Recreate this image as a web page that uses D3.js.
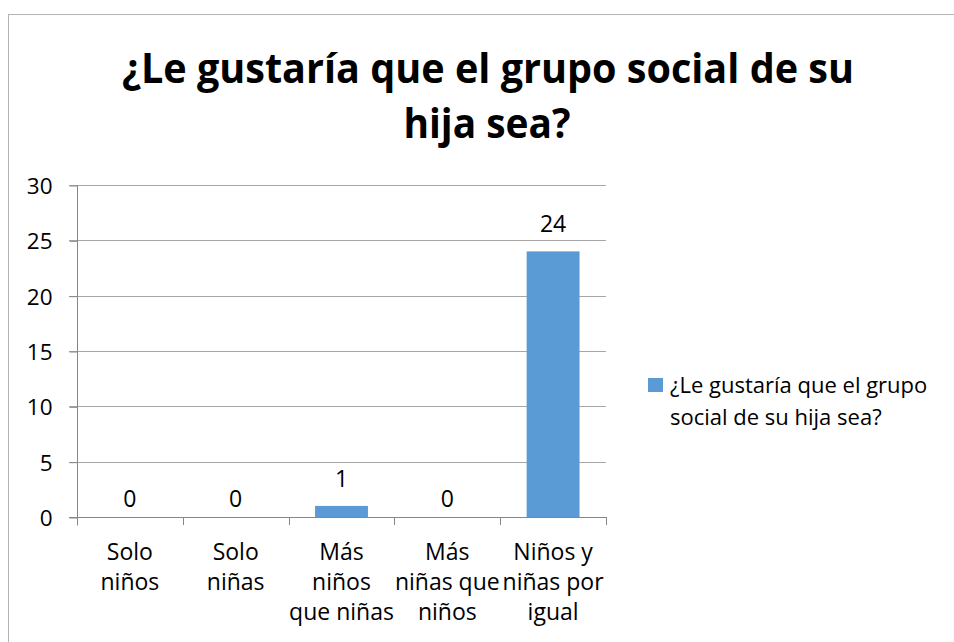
<!DOCTYPE html>
<html>
<head>
<meta charset="utf-8">
<script src="https://cdn.jsdelivr.net/npm/d3@7"></script>
<style>
  html, body { margin: 0; padding: 0; background: #fff; }
  svg { display: block; }
  text { font-family: "Open Sans", "Noto Sans", sans-serif; fill: #000; }
</style>
</head>
<body>
<svg id="chart" width="954" height="642"></svg>
<script>
const titleLines = ["¿Le gustaría que el grupo social de su", "hija sea?"];
const categories = [
  ["Solo", "niños"],
  ["Solo", "niñas"],
  ["Más", "niños", "que niñas"],
  ["Más", "niñas que", "niños"],
  ["Niños y", "niñas por", "igual"]
];
const values = [0, 0, 1, 0, 24];
const yTicks = [0, 5, 10, 15, 20, 25, 30];
const legendLines = ["¿Le gustaría que el grupo", "social de su hija sea?"];

const svg = d3.select("#chart");
const W = 954, H = 642;
const barColor = "#5b9bd5";
const gridColor = "#a6a6a6";
const axisColor = "#868686";

// outer border
svg.append("rect").attr("x", 8.5).attr("y", 14.5).attr("width", W + 10).attr("height", H + 10)
  .attr("fill", "#fff").attr("stroke", "#b4b4b4").attr("stroke-width", 1);

// title
const title = svg.append("g");
title.append("text").attr("x", 488).attr("y", 83).attr("text-anchor", "middle")
  .attr("font-size", 42).attr("font-weight", "bold")
  .attr("textLength", 732).attr("lengthAdjust", "spacingAndGlyphs")
  .text(titleLines[0]);
title.append("text").attr("x", 487).attr("y", 138).attr("text-anchor", "middle")
  .attr("font-size", 42).attr("font-weight", "bold")
  .attr("textLength", 167).attr("lengthAdjust", "spacingAndGlyphs")
  .text(titleLines[1]);

// scales
const x = d3.scaleBand().domain(d3.range(categories.length)).range([77, 606]).paddingInner(0.5).paddingOuter(0.25);
const xOuter = d3.scaleBand().domain(d3.range(categories.length)).range([77, 606]);
const y = d3.scaleLinear().domain([0, 30]).range([517, 185]);

// gridlines
svg.append("g").selectAll("line").data(yTicks.filter(t => t !== 0)).join("line")
  .attr("x1", 69).attr("x2", 606)
  .attr("y1", d => Math.round(y(d)) + 0.5).attr("y2", d => Math.round(y(d)) + 0.5)
  .attr("stroke", gridColor).attr("stroke-width", 1);

// y axis
const yAxis = d3.axisLeft(y).tickValues(yTicks).tickSize(8).tickPadding(17);
const yg = svg.append("g").attr("transform", "translate(77.5,0.5)").call(yAxis);
yg.select(".domain").attr("stroke", axisColor).attr("d", "M0," + (y(30)) + "V" + (y(0) + 8));
yg.selectAll(".tick line").attr("stroke", axisColor);
yg.selectAll(".tick text").attr("font-size", 22.5).attr("font-family", "Open Sans").attr("fill", "#000").attr("dy", "0.36em");

// bars
svg.append("g").selectAll("rect").data(values).join("rect")
  .attr("x", (d, i) => x(i)).attr("width", x.bandwidth())
  .attr("y", d => y(d)).attr("height", d => y(0) - y(d))
  .attr("fill", barColor);

// x axis
const xg = svg.append("g");
xg.append("line").attr("x1", 69).attr("x2", 606).attr("y1", 517.5).attr("y2", 517.5).attr("stroke", axisColor);
xg.selectAll("line.tk").data(d3.range(categories.length + 1)).join("line").attr("class", "tk")
  .attr("x1", i => Math.round(77 + i * xOuter.step()) + 0.5).attr("x2", i => Math.round(77 + i * xOuter.step()) + 0.5)
  .attr("y1", 517).attr("y2", 525).attr("stroke", axisColor);

// category labels
const cats = svg.append("g").selectAll("text").data(categories).join("text")
  .attr("text-anchor", "middle").attr("font-size", 23)
  .attr("x", (d, i) => xOuter(i) + xOuter.bandwidth() / 2).attr("y", 560);
cats.selectAll("tspan").data(d => d).join("tspan")
  .attr("x", function() { return this.parentNode.getAttribute("x"); })
  .attr("dy", (d, j) => j === 0 ? 0 : 30)
  .text(d => d);

// data labels
svg.append("g").selectAll("text").data(values).join("text")
  .attr("text-anchor", "middle").attr("font-size", 23)
  .attr("x", (d, i) => x(i) + x.bandwidth() / 2)
  .attr("y", d => d === 0 ? y(0) - 10 : y(d) - 19)
  .text(d => d);

// legend
const lg = svg.append("g");
lg.append("rect").attr("x", 648).attr("y", 378).attr("width", 15).attr("height", 14).attr("fill", barColor);
lg.selectAll("text").data(legendLines).join("text")
  .attr("x", 670).attr("y", (d, i) => 393 + i * 32)
  .attr("font-size", 22)
  .text(d => d);
</script>
</body>
</html>
